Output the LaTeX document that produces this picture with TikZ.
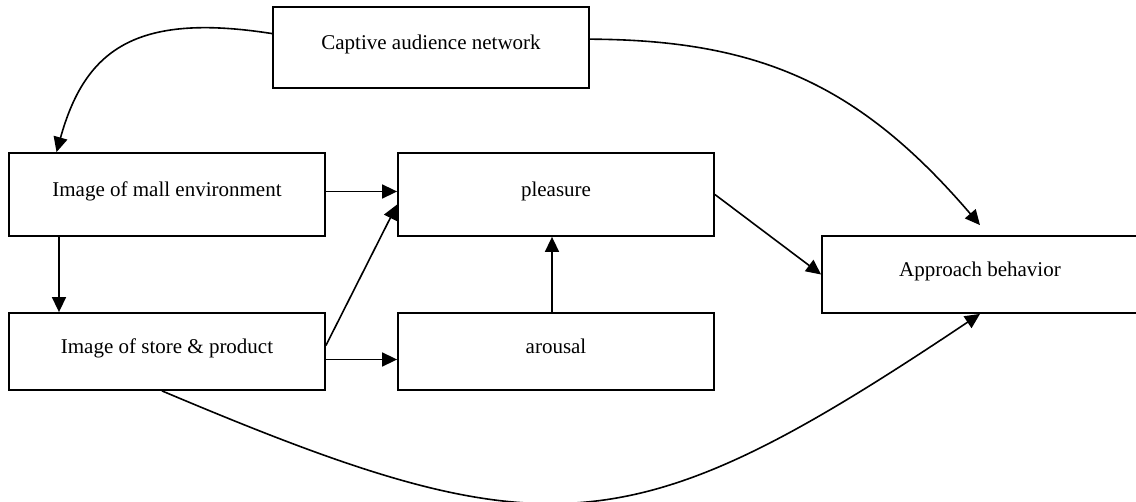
\documentclass[tikz,border=0pt]{standalone}
\usepackage{fontspec}
\setmainfont{Liberation Serif}
\usetikzlibrary{arrows.meta}
\tikzset{
every node/.style={rectangle, draw, line width=0.9pt, inner sep=0pt,
  minimum width=158pt, text height=0.7em, text depth=0.52em,
  font=\fontsize{10.5}{12.6}\selectfont},
>={Triangle[length=7.5pt,width=7pt]}
}

\begin{document}
\begin{tikzpicture}[x=0.5pt,y=-0.5pt,line width=0.8pt]
\useasboundingbox (0,0) rectangle (1136,502);
\node [minimum height=40.5pt] (cap) at (431,47.5) {Captive audience network};
\node [minimum height=41.5pt] (mall) at (167,194.5) {Image of mall environment};
\node [minimum height=38.5pt] (store) at (167,351.5) {Image of store \& product};
\node [minimum height=41.5pt] (pleas) at (556,194.5) {pleasure};
\node [minimum height=38.5pt] (arous) at (556,351.5) {arousal};
\node [minimum height=38.5pt] (appr) at (980,274.5) {Approach behavior};

\draw[->] (cap.175) .. controls (135,12) and (85,50) .. (mall.159);
\draw[->] (cap.3) .. controls (760,40) and (860,85) .. ([yshift=5pt]appr.north);
\draw[->] ([yshift=1.5pt]mall.east) -- ([yshift=1.5pt]pleas.west);
\draw[->] ([xshift=-54pt]mall.south) -- ([xshift=-54pt]store.north);
\draw[->] ([yshift=3pt]store.east) -- ([yshift=-5pt]pleas.west);
\draw[->] ([yshift=-4pt]store.east) -- ([yshift=-4pt]arous.west);
\draw[->] ([xshift=-2pt]arous.north) -- ([xshift=-2pt]pleas.south);
\draw[->] (pleas.east) -- (appr.west);
\draw[->] ([xshift=-2.5pt]store.south) .. controls (548,554) and (630,548) .. (appr.south);
\end{tikzpicture}
\end{document}
